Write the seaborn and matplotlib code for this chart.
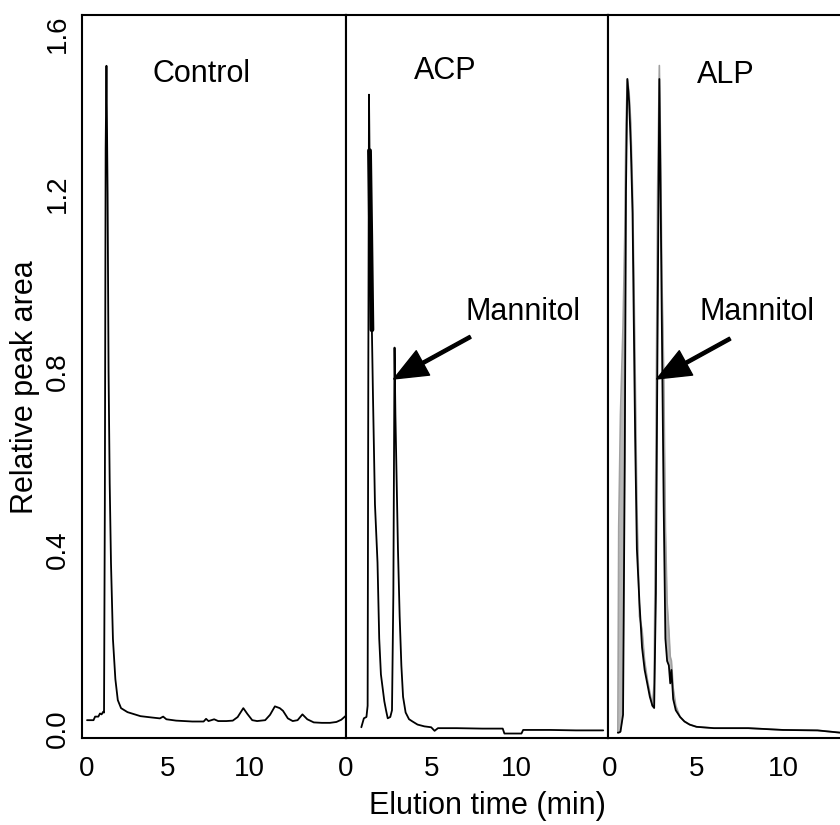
import matplotlib
matplotlib.use("Agg")
import matplotlib.pyplot as plt
import seaborn as sns

sns.set_style("white")
plt.rcParams["font.family"] = ["Liberation Sans", "DejaVu Sans"]
plt.rcParams["text.color"] = "black"
plt.rcParams["axes.labelcolor"] = "black"
plt.rcParams["xtick.color"] = "black"
plt.rcParams["ytick.color"] = "black"

# Control chromatogram
ctrl_t = [0.0, 0.4, 0.5, 0.7, 0.8, 0.9, 1.0, 1.05, 1.1, 1.15, 1.2, 1.27, 1.33, 1.4, 1.48,
          1.6, 1.75, 1.9, 2.1, 2.5, 3.3, 4.0, 4.5, 4.7, 4.9, 5.5, 6.5, 7.2, 7.35, 7.5,
          7.85, 8.1, 8.6, 9.0, 9.3, 9.65, 9.9, 10.2, 10.5, 11.0, 11.3, 11.6, 11.9, 12.1,
          12.4, 12.7, 13.0, 13.3, 13.6, 14.0, 14.5, 15.0, 15.4, 15.7, 15.95]
ctrl_y = [0.018, 0.018, 0.026, 0.026, 0.033, 0.031, 0.037, 0.035, 0.50, 1.30, 1.486, 1.20,
          0.80, 0.55, 0.37, 0.20, 0.11, 0.063, 0.045, 0.036, 0.027, 0.024, 0.022, 0.026,
          0.020, 0.017, 0.015, 0.015, 0.021, 0.016, 0.020, 0.016, 0.016, 0.017, 0.025,
          0.045, 0.032, 0.018, 0.016, 0.018, 0.030, 0.049, 0.045, 0.039, 0.022, 0.016,
          0.018, 0.031, 0.020, 0.013, 0.012, 0.012, 0.014, 0.019, 0.027]

# ACP chromatogram
acp_t = [0.9, 1.05, 1.2, 1.27, 1.31, 1.35, 1.38, 1.45, 1.52, 1.58, 1.7, 1.85, 1.95, 2.05,
         2.15, 2.25, 2.35, 2.45, 2.6, 2.7, 2.78, 2.85, 2.9, 2.95, 3.05, 3.15, 3.25, 3.35,
         3.5, 3.7, 3.9, 4.2, 4.6, 5.0, 5.2, 5.4, 6.5, 8.0, 9.2, 9.3, 10.3, 10.4, 12.0,
         13.5, 15.1]
acp_y = [0.002, 0.022, 0.025, 0.05, 0.80, 1.415, 1.29, 1.10, 0.89, 0.75, 0.50, 0.37,
         0.20, 0.12, 0.09, 0.06, 0.04, 0.022, 0.025, 0.04, 0.30, 0.85, 0.70, 0.60, 0.40,
         0.25, 0.14, 0.07, 0.035, 0.02, 0.015, 0.008, 0.004, 0.002, -0.006, 0.0, 0.0,
         -0.001, -0.001, -0.012, -0.012, -0.004, -0.004, -0.005, -0.005]
acp_overlap_t = [1.38, 1.45, 1.52]
acp_overlap_y = [1.29, 1.10, 0.89]

# ALP chromatogram (black trace) and replicate (grey)
alp_t = [0.45, 0.5, 0.6, 0.75, 0.85, 0.92, 1.0, 1.1, 1.2, 1.3, 1.38, 1.45, 1.55, 1.7,
         1.85, 2.0, 2.15, 2.3, 2.45, 2.55, 2.65, 2.75, 2.85, 2.92, 3.0, 3.1, 3.2, 3.3,
         3.4, 3.48, 3.55, 3.65, 3.8, 4.05, 4.3, 4.6, 5.0, 6.0, 8.0, 10.0, 12.0, 13.3]
alp_y = [-0.01, -0.01, -0.008, 0.03, 0.60, 1.20, 1.45, 1.40, 1.30, 1.15, 0.88, 0.65,
         0.40, 0.28, 0.18, 0.13, 0.10, 0.07, 0.05, 0.045, 0.30, 0.90, 1.45, 1.20, 0.88,
         0.50, 0.20, 0.15, 0.14, 0.10, 0.13, 0.065, 0.04, 0.025, 0.015, 0.008, 0.003,
         0.0, 0.0, -0.004, -0.005, -0.01]
alp_rep = [-0.01, 0.45, 0.70, 0.90, 1.10, 1.35, 1.45, 1.42, 1.35, 1.20, 1.00, 0.80,
           0.50, 0.25, 0.22, 0.15, 0.11, 0.08, 0.05, 0.10, 0.60, 1.20, 1.48, 1.30, 1.00,
           0.80, 0.45, 0.28, 0.22, 0.16, 0.15, 0.09, 0.05, 0.025, 0.015, 0.008, 0.003,
           0.0, 0.0, -0.004, -0.005, -0.01]

xticks = [0, 5, 10]

fig = plt.figure(figsize=(8.4, 8.25), dpi=100)
bottom, height = 0.10545, 0.8764
ax1 = fig.add_axes([0.09762, bottom, 0.31429, height])
ax2 = fig.add_axes([0.41190, bottom, 0.31190, height])
ax3 = fig.add_axes([0.72381, bottom, 0.27619, height])
axes = [ax1, ax2, ax3]

sns.lineplot(x=ctrl_t, y=ctrl_y, ax=ax1, color="black", lw=1.3, sort=False, estimator=None)
sns.lineplot(x=acp_t, y=acp_y, ax=ax2, color="black", lw=1.3, sort=False, estimator=None)
sns.lineplot(x=acp_overlap_t, y=acp_overlap_y, ax=ax2, color="black", lw=3.5,
             sort=False, estimator=None)
ax3.fill_between(alp_t, alp_y, alp_rep, color="#b9b9b9", lw=0)
sns.lineplot(x=alp_t, y=alp_rep, ax=ax3, color="#a0a0a0", lw=1.2, sort=False, estimator=None)
sns.lineplot(x=alp_t, y=alp_y, ax=ax3, color="black", lw=1.3, sort=False, estimator=None)

ax1.set_xlim(-0.31, 15.99)
ax2.set_xlim(0.06, 15.38)
ax3.set_xlim(-0.12, 13.3)

for i, ax in enumerate(axes):
    ax.set_ylim(-0.022, 1.593)
    ax.set_xticks(xticks)
    ax.set_xticklabels([str(v) for v in xticks], fontsize=20)
    ax.tick_params(axis="both", length=0)
    ax.tick_params(axis="x", pad=13)
    for s in ax.spines.values():
        s.set_linewidth(1.5)
        s.set_color("black")
    if i == 0:
        ax.set_yticks([0.0, 0.4, 0.8, 1.2, 1.6])
        ax.set_yticklabels(["0.0", "0.4", "0.8", "1.2", "1.6"], fontsize=20,
                           rotation=90, va="center")
        ax.tick_params(axis="y", pad=8)
        ax.get_yticklabels()[-1].set_va("top")
        ax.set_ylabel("Relative peak area", fontsize=22)
        ax.yaxis.set_label_coords(-0.16, 0.485)
    else:
        ax.set_yticks([])
    ax.set_xlabel("")

ax3.spines["right"].set_visible(False)

ax1.text(7.04, 1.468, "Control", fontsize=22, ha="center", va="center")
ax2.text(5.85, 1.468, "ACP", fontsize=22, ha="center", va="center")
ax3.text(6.7, 1.46, "ALP", fontsize=22, ha="center", va="center")

arrow = dict(facecolor="black", edgecolor="black", width=2.3, headwidth=20,
             headlength=24, shrink=0)
ax2.text(10.4, 0.93, "Mannitol", fontsize=22, ha="center", va="center")
ax2.annotate("", xy=(2.8, 0.78), xytext=(7.3, 0.874), arrowprops=arrow)
ax3.text(8.5, 0.93, "Mannitol", fontsize=22, ha="center", va="center")
ax3.annotate("", xy=(2.7, 0.78), xytext=(6.94, 0.87), arrowprops=arrow)

fig.text(487 / 840, 1 - 806 / 825, "Elution time (min)", fontsize=22,
         ha="center", va="center")

fig.savefig("out.png", dpi=100)
